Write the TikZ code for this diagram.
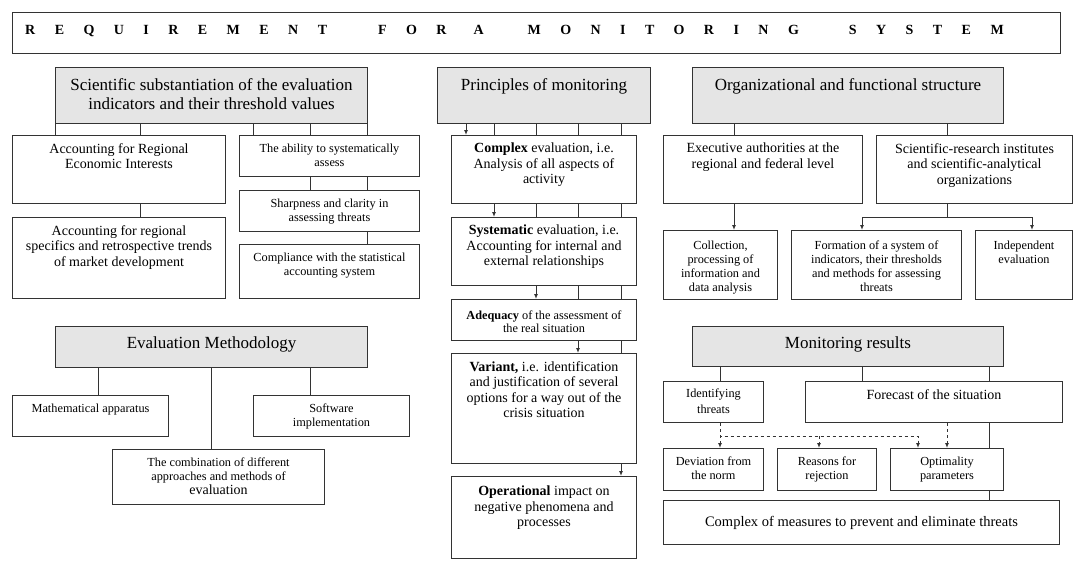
\documentclass[tikz,border=0pt]{standalone}
\usepackage{fontspec}
\setmainfont{Liberation Serif}
\newfontfamily\spacedserif[LetterSpace=139]{Liberation Serif}
\usetikzlibrary{positioning,arrows.meta}
\definecolor{linec}{gray}{0.2}
\definecolor{hdrgray}{gray}{0.9}
\begin{document}
\begin{tikzpicture}[x=1pt, y=-1pt]
	\tikzset{>={Latex[length=5pt,width=4pt]}}
	\tikzset{
		box/.style 2 args={draw=linec, line width=1pt, minimum width=#1, minimum height=#2, anchor=north west, inner sep=0pt},
		hdrbox/.style 2 args={box={#1}{#2}, fill=hdrgray},
		hdr/.style={font=\fontsize{17}{19}\selectfont, align=center, inner sep=0pt},
		mid/.style={font=\fontsize{14}{15.5}\selectfont, align=center, inner sep=0pt},
		sml/.style={font=\fontsize{12.3}{14}\selectfont, align=center, inner sep=0pt},
		link/.style={draw=linec, line width=1pt},
	}
	\useasboundingbox (0,0) rectangle (1074,562);

	% title
	\node[box={1048pt}{41pt}] (ttl) at (12,12) {};
	\node[right=13pt of ttl.west, yshift=2pt, inner sep=0pt, font=\spacedserif\bfseries\fontsize{14}{16}\selectfont] (ttl-t) {REQUIREMENT \hspace{28pt}FOR \hspace{4pt}A \hspace{21pt}MONITORING \hspace{27pt}SYSTEM};

	% left column
	\node[hdrbox={312pt}{56pt}] (sci) at (55,67) {};
	\node[hdr, below=11pt of sci.north] (sci-t) {Scientific substantiation of the evaluation\\indicators and their threshold values};
	\node[box={213pt}{68pt}] (accreg) at (12,135) {};
	\node[mid, below=8pt of accreg.north] (accreg-t) {Accounting for Regional\\Economic Interests};
	\node[box={213pt}{81pt}] (accspec) at (12,217) {};
	\node[mid, below=8pt of accspec.north] (accspec-t) {Accounting for regional\\specifics and retrospective trends\\of market development};
	\node[box={180pt}{41pt}] (abil) at (239,135) {};
	\node[sml, below=9pt of abil.north] (abil-t) {The ability to systematically\\assess};
	\node[box={180pt}{41pt}] (sharp) at (239,190) {};
	\node[sml, below=9pt of sharp.north] (sharp-t) {Sharpness and clarity in\\assessing threats};
	\node[box={180pt}{54pt}] (compl) at (239,244) {};
	\node[sml, below=9pt of compl.north] (compl-t) {Compliance with the statistical\\accounting system};

	\foreach \x in {55,140}
		\draw[link] (\x,0 |- sci.south) -- (\x,0 |- accreg.north);
	\foreach \x in {253,310,367}
		\draw[link] (\x,0 |- sci.south) -- (\x,0 |- abil.north);
	\draw[link] (140,0 |- accreg.south) -- (140,0 |- accspec.north);
	\foreach \x in {310,367}
		\draw[link] (\x,0 |- abil.south) -- (\x,0 |- sharp.north);
	\draw[link] (367,0 |- sharp.south) -- (367,0 |- compl.north);

	\node[hdrbox={312pt}{41pt}] (meth) at (55,326) {};
	\node[hdr, below=11pt of meth.north] (meth-t) {Evaluation Methodology};
	\node[box={156pt}{41pt}] (math) at (12,395) {};
	\node[sml, below=9pt of math.north] (math-t) {Mathematical apparatus};
	\node[box={156pt}{41pt}] (soft) at (253,395) {};
	\node[sml, below=9pt of soft.north] (soft-t) {Software\\implementation};
	\node[box={212pt}{55pt}] (comb) at (112,449) {};
	\node[sml, below=9pt of comb.north] (comb-t) {The combination of different\\approaches and methods of\\{\fontsize{14}{14}\selectfont evaluation}};

	\foreach \x/\n in {98/math, 211/comb, 310/soft}
		\draw[link] (\x,0 |- meth.south) -- (\x,0 |- \n.north);

	% middle column
	\node[hdrbox={213pt}{56pt}] (prin) at (437,67) {};
	\node[hdr, below=11pt of prin.north] (prin-t) {Principles of monitoring};
	\node[box={185pt}{68pt}] (cmplx) at (451,135) {};
	\node[mid, below=8pt of cmplx.north] (cmplx-t) {\textbf{Complex} evaluation, i.e.\\Analysis of all aspects of\\activity};
	\node[box={185pt}{68pt}] (syst) at (451,217) {};
	\node[mid, below=8pt of syst.north] (syst-t) {\textbf{Systematic} evaluation, i.e.\\Accounting for internal and\\external relationships};
	\node[box={185pt}{41pt}] (adeq) at (451,299) {};
	\node[sml, font=\fontsize{12.3}{12.5}\selectfont, below=12pt of adeq.north] (adeq-t) {\textbf{Adequacy} of the assessment of\\the real situation};
	\node[box={185pt}{110pt}] (var) at (451,353) {};
	\node[mid, below=8pt of var.north] (var-t) {\textbf{Variant,} i.e. identification\\and justification of several\\options for a way out of the\\crisis situation};
	\node[box={185pt}{82pt}] (oper) at (451,476) {};
	\node[mid, below=10pt of oper.north] (oper-t) {\textbf{Operational} impact on\\negative phenomena and\\processes};

	\foreach \a/\b/\x in {prin/cmplx/466, cmplx/syst/494, syst/adeq/536, adeq/var/578, var/oper/621} {
		\draw[link,->] (\x,0 |- \a.south) -- (\x,0 |- \b.north);
		\foreach \y in {494,536,578,621} {
			\ifnum\y>\x \draw[link] (\y,0 |- \a.south) -- (\y,0 |- \b.north);\fi
		}
	}

	% right column
	\node[hdrbox={311pt}{56pt}] (org) at (692,67) {};
	\node[hdr, below=11pt of org.north] (org-t) {Organizational and functional structure};
	\node[box={199pt}{68pt}] (exec) at (663,135) {};
	\node[mid, below=8pt of exec.north] (exec-t) {Executive authorities at the\\regional and federal level};
	\node[box={196pt}{68pt}] (sri) at (876,135) {};
	\node[mid, below=8pt of sri.north] (sri-t) {Scientific-research institutes\\and scientific-analytical\\organizations};
	\node[box={114pt}{69pt}] (coll) at (663,230) {};
	\node[sml, below=11pt of coll.north] (coll-t) {Collection,\\processing of\\information and\\data analysis};
	\node[box={170pt}{69pt}] (form) at (791,230) {};
	\node[sml, below=11pt of form.north] (form-t) {Formation of a system of\\indicators, their thresholds\\and methods for assessing\\threats};
	\node[box={97pt}{69pt}] (indep) at (975,230) {};
	\node[sml, below=11pt of indep.north] (indep-t) {Independent\\evaluation};

	\draw[link] (734,0 |- org.south) -- (734,0 |- exec.north);
	\draw[link] (947,0 |- org.south) -- (947,0 |- sri.north);
	\draw[link,->] (734,0 |- exec.south) -- (734,0 |- coll.north);
	\coordinate (sl) at (862,217);
	\coordinate (sm) at (947,217);
	\coordinate (sr) at (1032,217);
	\draw[link] (sri.south -| sm) -- (sm);
	\draw[link,<->] (sl |- form.north) -- (sl) -- (sr) -- (sr |- indep.north);

	\node[hdrbox={311pt}{40pt}] (mres) at (692,326) {};
	\node[hdr, below=11pt of mres.north] (mres-t) {Monitoring results};
	\node[box={100pt}{41pt}] (ident) at (663,381) {};
	\node[sml, font=\fontsize{12.3}{16}\selectfont, below=8pt of ident.north] (ident-t) {Identifying\\threats};
	\node[box={257pt}{41pt}] (fcst) at (805,381) {};
	\node[mid, below=8pt of fcst.north] (fcst-t) {Forecast of the situation};
	\node[box={100pt}{42pt}] (dev) at (663,448) {};
	\node[sml, below=9pt of dev.north] (dev-t) {Deviation from\\the norm};
	\node[box={99pt}{42pt}] (reas) at (777,448) {};
	\node[sml, below=9pt of reas.north] (reas-t) {Reasons for\\rejection};
	\node[box={113pt}{42pt}] (optim) at (890,448) {};
	\node[sml, below=9pt of optim.north] (optim-t) {Optimality\\parameters};
	\node[box={396pt}{44pt}] (meas) at (663,500) {};
	\node[mid, font=\fontsize{14.5}{16}\selectfont] (meas-t) at (meas.center) {Complex of measures to prevent and eliminate threats};

	\draw[link] (720,0 |- mres.south) -- (720,0 |- ident.north);
	\foreach \x in {862,989}
		\draw[link] (\x,0 |- mres.south) -- (\x,0 |- fcst.north);
	\draw[link] (989,0 |- fcst.south) -- (989,0 |- optim.north);
	\draw[link] (989,0 |- optim.south) -- (989,0 |- meas.north);

	\coordinate (dl) at (720,436);
	\coordinate (dm) at (819,436);
	\coordinate (dr) at (918,436);
	\draw[link,dashed] (ident.south -| dl) -- (dl);
	\draw[link,dashed,<->] (dl |- dev.north) -- (dl) -- (dr) -- (dr |- optim.north);
	\draw[link,dashed,->] (dm) -- (dm |- reas.north);
	\draw[link,dashed,->] (947,0 |- fcst.south) -- (947,0 |- optim.north);
\end{tikzpicture}
\end{document}
